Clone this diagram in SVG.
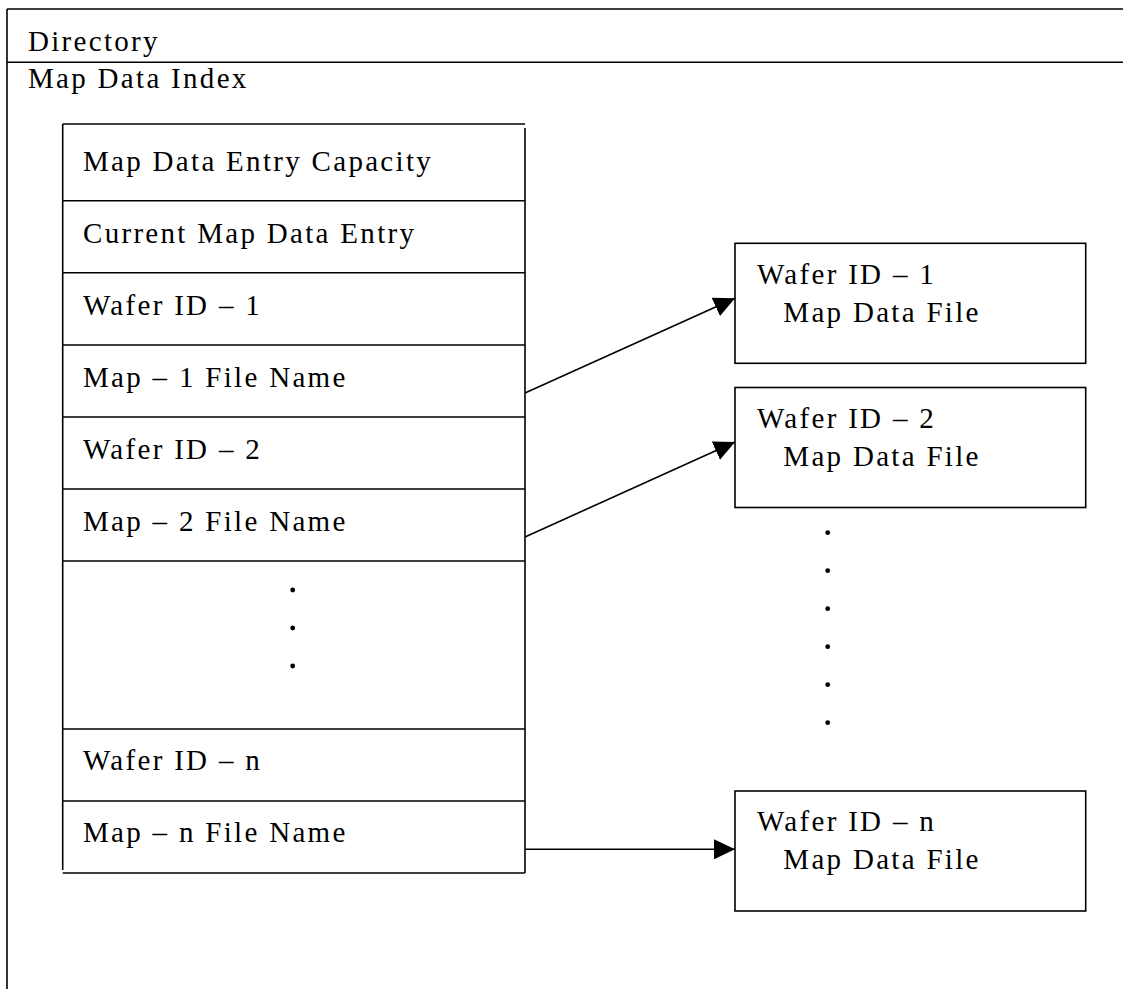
<svg xmlns="http://www.w3.org/2000/svg" width="1123" height="989" viewBox="0 0 1123 989">
  <style>
    .ln { stroke: #000; stroke-width: 1.6; fill: none; }
    .box { stroke: #000; stroke-width: 1.6; fill: #fff; }
    .t { font-family: "Liberation Serif", "Times New Roman", serif; font-size: 29px; letter-spacing: 2.3px; fill: #000; }
    .dot { fill: #000; }
    .conn { stroke: #000; stroke-width: 1.6; fill: none; }
  </style>
  <defs>
    <marker id="arrow" markerUnits="userSpaceOnUse" markerWidth="22" markerHeight="20" refX="21" refY="10" orient="auto" viewBox="0 0 22 20">
      <path d="M0,0 L21,10 L0,20 Z" fill="#000"/>
    </marker>
  </defs>
  <rect width="1123" height="989" fill="#fff"/>

  <g id="directory">
    <line class="ln" x1="7" y1="9" x2="1123" y2="9"/>
    <line class="ln" x1="7" y1="9" x2="7" y2="989"/>
    <line class="ln" x1="7" y1="62.3" x2="1123" y2="62.3"/>
    <text class="t" x="28" y="51">Directory</text>
    <text class="t" x="28" y="88.3">Map Data Index</text>
  </g>

  <g id="map-data-index">
    <line class="ln" x1="62.7" y1="124" x2="525" y2="124"/>
    <line class="ln" x1="62.7" y1="124" x2="62.7" y2="870"/>
    <line class="ln" x1="525" y1="128" x2="525" y2="873"/>
    <line class="ln" x1="62.7" y1="873" x2="525" y2="873"/>
    <line class="ln" x1="62.7" y1="200.7" x2="525" y2="200.7"/>
    <line class="ln" x1="62.7" y1="272.7" x2="525" y2="272.7"/>
    <line class="ln" x1="62.7" y1="345" x2="525" y2="345"/>
    <line class="ln" x1="62.7" y1="417" x2="525" y2="417"/>
    <line class="ln" x1="62.7" y1="489" x2="525" y2="489"/>
    <line class="ln" x1="62.7" y1="561" x2="525" y2="561"/>
    <line class="ln" x1="62.7" y1="729" x2="525" y2="729"/>
    <line class="ln" x1="62.7" y1="801" x2="525" y2="801"/>
    <g id="row-capacity"><text class="t" x="83" y="171">Map Data Entry Capacity</text></g>
    <g id="row-current"><text class="t" x="83" y="242.7">Current Map Data Entry</text></g>
    <g id="row-wafer1"><text class="t" x="83" y="314.5">Wafer ID – 1</text></g>
    <g id="row-map1"><text class="t" x="83" y="386.5">Map – 1 File Name</text></g>
    <g id="row-wafer2"><text class="t" x="83" y="458.5">Wafer ID – 2</text></g>
    <g id="row-map2"><text class="t" x="83" y="530.5">Map – 2 File Name</text></g>
    <g id="row-ellipsis">
      <circle class="dot" cx="292.7" cy="590" r="2.4"/>
      <circle class="dot" cx="292.7" cy="628" r="2.4"/>
      <circle class="dot" cx="292.7" cy="666" r="2.4"/>
    </g>
    <g id="row-wafern"><text class="t" x="83" y="769.5">Wafer ID – n</text></g>
    <g id="row-mapn"><text class="t" x="83" y="841.5">Map – n File Name</text></g>
  </g>

  <g id="file-1">
    <rect class="box" x="735" y="243.3" width="350.7" height="120"/>
    <text class="t" x="757" y="284">Wafer ID – 1</text>
    <text class="t" x="783.3" y="322">Map Data File</text>
  </g>
  <g id="file-2">
    <rect class="box" x="735" y="387.5" width="350.7" height="120"/>
    <text class="t" x="757" y="428">Wafer ID – 2</text>
    <text class="t" x="783.3" y="466">Map Data File</text>
  </g>
  <g id="file-ellipsis">
    <circle class="dot" cx="827.7" cy="532.7" r="2.4"/>
    <circle class="dot" cx="827.7" cy="570.7" r="2.4"/>
    <circle class="dot" cx="827.7" cy="608.7" r="2.4"/>
    <circle class="dot" cx="827.7" cy="646.7" r="2.4"/>
    <circle class="dot" cx="827.7" cy="684.7" r="2.4"/>
    <circle class="dot" cx="827.7" cy="722.7" r="2.4"/>
  </g>
  <g id="file-n">
    <rect class="box" x="735" y="791" width="350.7" height="120"/>
    <text class="t" x="757" y="831">Wafer ID – n</text>
    <text class="t" x="783.3" y="869.3">Map Data File</text>
  </g>

  <g id="connectors">
    <line class="conn" x1="525" y1="393" x2="735" y2="298.3" marker-end="url(#arrow)"/>
    <line class="conn" x1="525" y1="537" x2="735" y2="442" marker-end="url(#arrow)"/>
    <line class="conn" x1="525" y1="849.3" x2="735" y2="849.3" marker-end="url(#arrow)"/>
  </g>
</svg>
